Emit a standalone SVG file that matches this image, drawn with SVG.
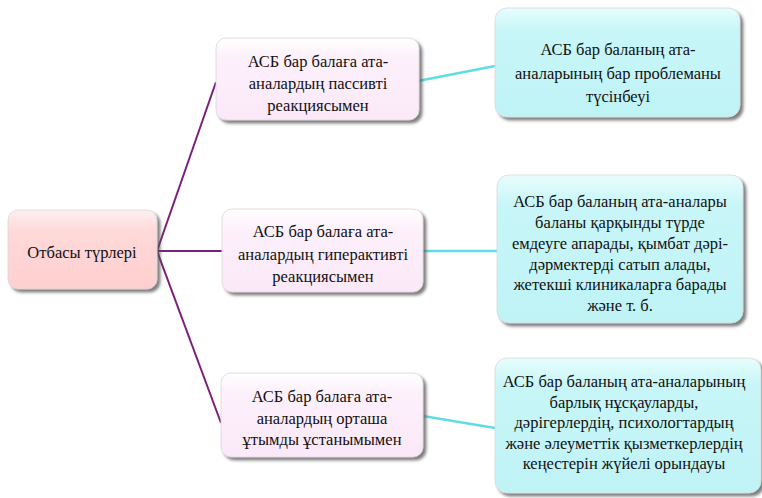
<svg xmlns="http://www.w3.org/2000/svg" width="762" height="498" viewBox="0 0 762 498" font-family="Liberation Serif, Times New Roman, serif" font-size="16.5">
<defs>
<filter id="sh" x="-10%" y="-10%" width="125%" height="130%">
<feDropShadow dx="3" dy="3" stdDeviation="1.8" flood-color="#555" flood-opacity="0.75"/>
</filter>
<linearGradient id="gPink" x1="0" y1="0" x2="0" y2="1">
<stop offset="0" stop-color="#fff0f0"/>
<stop offset="0.25" stop-color="#ffd9d9"/>
<stop offset="1" stop-color="#ffcfcf"/>
</linearGradient>
<linearGradient id="gLav" x1="0" y1="0" x2="0" y2="1">
<stop offset="0" stop-color="#ffffff"/>
<stop offset="0.25" stop-color="#fdf0fb"/>
<stop offset="1" stop-color="#fbe8f8"/>
</linearGradient>
<linearGradient id="gCyan" x1="0" y1="0" x2="0" y2="1">
<stop offset="0" stop-color="#e8fdfd"/>
<stop offset="0.2" stop-color="#c8f6f8"/>
<stop offset="1" stop-color="#bff3f6"/>
</linearGradient>
</defs>
<style>
.box{filter:url(#sh);stroke:#d8d8d8;stroke-width:0.8}
.root{fill:url(#gPink)}
.mid{fill:url(#gLav)}
.leaf{fill:url(#gCyan)}
.t{fill:#111;text-anchor:middle}
.p{stroke:#7a1f7a;stroke-width:2;fill:none}
.c{stroke:#5fdde3;stroke-width:2.5;fill:none}
</style>
<rect width="762" height="498" fill="#ffffff"/>
<g id="connectors">
<line class="p" x1="157" y1="251" x2="216" y2="82"/>
<line class="p" x1="157" y1="251" x2="222" y2="251"/>
<line class="p" x1="157" y1="251" x2="221" y2="423"/>
<line class="c" x1="418" y1="81" x2="495" y2="66"/>
<line class="c" x1="423" y1="251" x2="497" y2="251"/>
<line class="c" x1="423" y1="416" x2="495" y2="428"/>
</g>
<g id="root">
<rect class="box root" x="8" y="210" width="149" height="79" rx="10"/>
<text class="t" x="82" y="258">Отбасы түрлері</text>
</g>
<g id="mid1">
<rect class="box mid" x="216" y="38" width="203" height="82" rx="10"/>
<text class="t" x="318" y="67">АСБ бар балаға ата-</text>
<text class="t" x="318" y="89">аналардың пассивті</text>
<text class="t" x="318" y="111">реакциясымен</text>
</g>
<g id="mid2">
<rect class="box mid" x="222" y="209" width="201" height="83" rx="10"/>
<text class="t" x="323" y="237">АСБ бар балаға ата-</text>
<text class="t" x="323" y="260">аналардың гиперактивті</text>
<text class="t" x="323" y="282">реакциясымен</text>
</g>
<g id="mid3">
<rect class="box mid" x="221" y="373" width="202" height="84" rx="10"/>
<text class="t" x="322" y="402">АСБ бар балаға ата-</text>
<text class="t" x="322" y="424">аналардың орташа</text>
<text class="t" x="322" y="445">ұтымды ұстанымымен</text>
</g>
<g id="leaf1">
<rect class="box leaf" x="495" y="8" width="245" height="109" rx="12"/>
<text class="t" x="618" y="55">АСБ бар баланың ата-</text>
<text class="t" x="618" y="79">аналарының бар проблеманы</text>
<text class="t" x="618" y="102">түсінбеуі</text>
</g>
<g id="leaf2">
<rect class="box leaf" x="497" y="175" width="246" height="148" rx="12"/>
<text class="t" x="620" y="207">АСБ бар баланың ата-аналары</text>
<text class="t" x="620" y="228">баланы қарқынды түрде</text>
<text class="t" x="620" y="249">емдеуге апарады, қымбат дәрі-</text>
<text class="t" x="620" y="270">дәрмектерді сатып алады,</text>
<text class="t" x="620" y="290">жетекші клиникаларға барады</text>
<text class="t" x="620" y="311">және т. б.</text>
</g>
<g id="leaf3">
<rect class="box leaf" x="495" y="358" width="266" height="135" rx="12"/>
<text class="t" x="624" y="387">АСБ бар баланың ата-аналарының</text>
<text class="t" x="624" y="408">барлық нұсқауларды,</text>
<text class="t" x="624" y="428">дәрігерлердің, психологтардың</text>
<text class="t" x="624" y="449">және әлеуметтік қызметкерлердің</text>
<text class="t" x="624" y="469">кеңестерін жүйелі орындауы</text>
</g>
</svg>
